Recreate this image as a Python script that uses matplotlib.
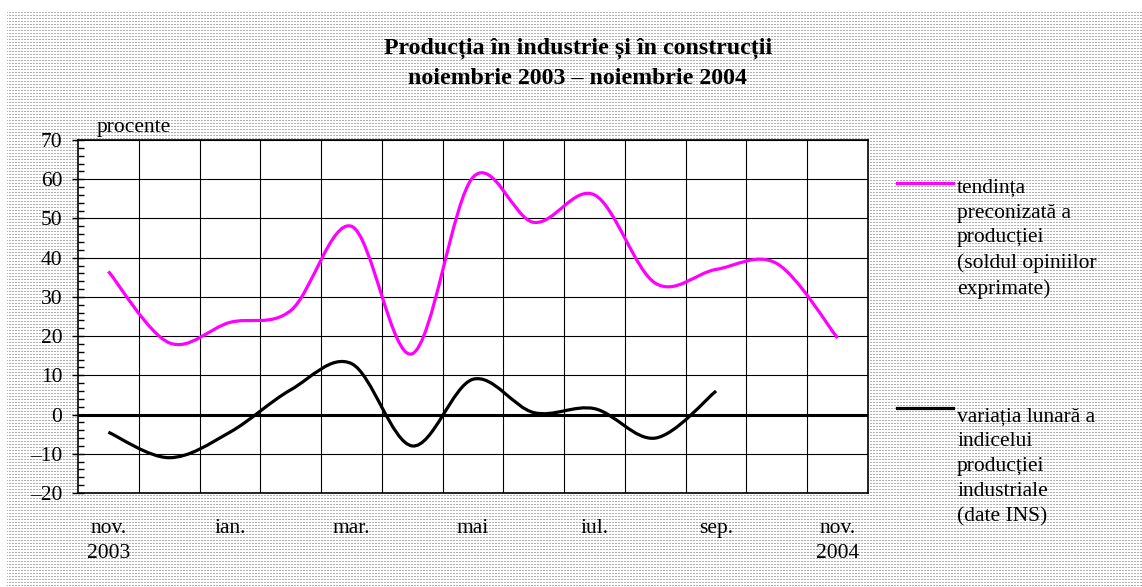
import numpy as np
import matplotlib
matplotlib.use("Agg")
import matplotlib.pyplot as plt
from matplotlib.path import Path
from matplotlib.patches import PathPatch
from matplotlib.lines import Line2D
from matplotlib.ticker import MultipleLocator, FuncFormatter

plt.rcParams['font.family'] = ['Liberation Serif', 'DejaVu Serif']

# months nov 2003 .. nov 2004
months = ["nov.", "dec.", "ian.", "feb.", "mar.", "apr.", "mai", "iun.",
          "iul.", "aug.", "sep.", "oct.", "nov."]
tick_labels = ["nov.\n2003", "ian.", "mar.", "mai", "iul.", "sep.", "nov.\n2004"]
tendinta = [36.5, 18.3, 23.5, 26.5, 48, 15.5, 60.5, 49, 56, 33.5, 37, 38.5, 19.5]
variatia = [-4.5, -11, -4.5, 6.3, 13, -8, 9, 0.5, 1.5, -6, 6]

label_t = "tendința\npreconizată a\nproducției\n(soldul opiniilor\nexprimate)"
label_v = "variația lunară a\nindicelui\nproducției\nindustriale\n(date INS)"

W, H = 1142, 587
fig = plt.figure(figsize=(W / 100, H / 100), dpi=100)

# dotted background
bg = np.ones((H, W, 3))
yy, xx = np.mgrid[0:H, 0:W]
mask = (yy % 3 == 0) & (xx % 3 != 2) & (yy >= 11) & (xx >= 7)
bg[mask] = 0.70
bax = fig.add_axes([0, 0, 1, 1], zorder=0)
bax.imshow(bg, interpolation="nearest", aspect="auto")
bax.axis("off")


def smooth_path(xs, ys):
    # Excel-style smoothed line: cubic Bezier through every point
    pts = np.column_stack([xs, ys]).astype(float)
    n = len(pts)
    verts = [pts[0]]
    codes = [Path.MOVETO]
    for i in range(n - 1):
        p0 = pts[i - 1] if i > 0 else pts[i]
        p1 = pts[i]
        p2 = pts[i + 1]
        p3 = pts[i + 2] if i + 2 < n else pts[i + 1]
        c1 = p1 + (p2 - p0) / 6
        c2 = p2 - (p3 - p1) / 6
        verts += [c1, c2, p2]
        codes += [Path.CURVE4] * 3
    return Path(verts, codes)


ax = fig.add_axes([78 / W, 1 - 493 / H, 790 / W, 353 / H], zorder=1)
ax.set_facecolor("white")
ax.set_xlim(-0.5, 12.5)
ax.set_ylim(-20, 70)

xt = np.arange(len(tendinta))
xv = np.arange(len(variatia))
ax.add_patch(PathPatch(smooth_path(xt, tendinta), fill=False, edgecolor="#ff00ff",
                       lw=2.3, zorder=3, capstyle="butt"))
ax.add_patch(PathPatch(smooth_path(xv, variatia), fill=False, edgecolor="black",
                       lw=2.3, zorder=3, capstyle="butt"))
ax.axhline(0, color="black", lw=2.2, zorder=2)

ax.set_xticks(np.arange(0, 13, 2))
ax.set_xticklabels(tick_labels, fontsize=15.5, linespacing=1.37)
ax.set_xticks(np.arange(0.5, 12, 1), minor=True)
ax.tick_params(axis="x", which="both", length=0, pad=19)
ax.grid(True, axis="x", which="minor", color="black", lw=0.8)

ax.yaxis.set_major_locator(MultipleLocator(10))
ax.yaxis.set_minor_locator(MultipleLocator(2))
ax.yaxis.set_major_formatter(FuncFormatter(lambda v, p: f"{int(v)}".replace("-", "\u2013")))
ax.tick_params(axis="y", which="major", direction="inout", length=8.6, width=1,
               labelsize=15.5, pad=7)
ax.tick_params(axis="y", which="minor", direction="in", length=4.3, width=1)
ax.grid(True, axis="y", which="major", color="black", lw=0.8)
ax.set_axisbelow(True)
for s in ax.spines.values():
    s.set_linewidth(1.2)

ax.text(97 / W, 1 - 127 / H, "procente", transform=fig.transFigure,
        fontsize=15.5, ha="left", va="center")

fig.text(0.506, 1 - 48 / H, "Producția în industrie și în construcții",
         ha="center", va="center", fontsize=17.2, fontweight="bold")
fig.text(0.506, 1 - 78 / H, "noiembrie 2003 – noiembrie 2004",
         ha="center", va="center", fontsize=17.2, fontweight="bold")

# legend drawn beside the plot (baseline of the last line given)
for col, ly, lab, base in [("#ff00ff", 183, label_t, 294), ("black", 408, label_v, 521)]:
    fig.add_artist(Line2D([897 / W, 953 / W], [1 - ly / H, 1 - ly / H],
                          color=col, lw=2.3, transform=fig.transFigure))
    fig.text(957 / W, 1 - base / H, lab, ha="left", va="baseline",
             fontsize=15.5, linespacing=1.41)

fig.savefig("out.png", dpi=100)
